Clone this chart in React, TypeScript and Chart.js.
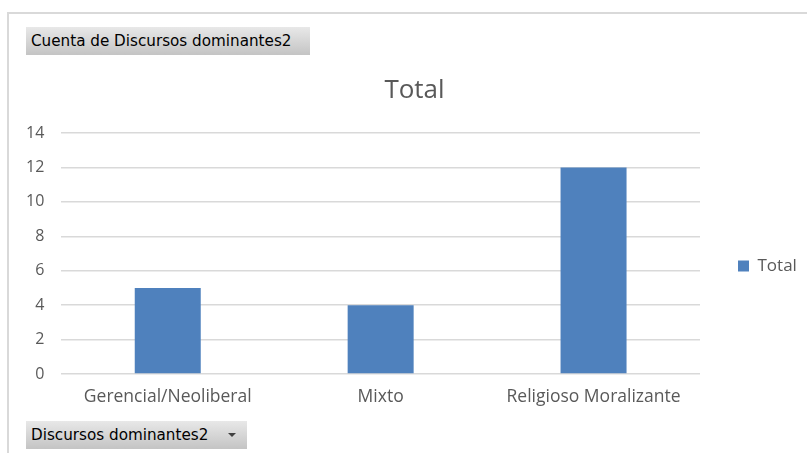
import React, { useEffect, useRef } from "react";
import { Chart, registerables } from "chart.js";

Chart.register(...registerables);

const categories = ["Gerencial/Neoliberal", "Mixto", "Religioso Moralizante"];
const totals = [5, 4, 12];
const seriesName = "Total";
const yTicks = [0, 2, 4, 6, 8, 10, 12, 14];

const FONT = "'Open Sans', 'Noto Sans', sans-serif";
const TEXT = "#595959";

const shiftTitle = {
  id: "shiftTitle",
  afterLayout(chart: any) {
    const t = chart.titleBlock;
    if (t) {
      t.left += 20;
    }
  },
};

export default function App() {
  const ref = useRef<HTMLCanvasElement | null>(null);

  useEffect(() => {
    if (!ref.current) return;
    const chart = new Chart(ref.current, {
      type: "bar",
      data: {
        labels: categories,
        datasets: [
          {
            label: seriesName,
            data: totals,
            backgroundColor: "#4f81bd",
            borderWidth: 0,
            barPercentage: 0.62,
            categoryPercentage: 0.5,
          },
        ],
      },
      plugins: [shiftTitle],
      options: {
        responsive: false,
        animation: false,
        layout: { padding: { left: 9, right: 7, top: 75, bottom: 40 } },
        plugins: {
          title: {
            display: true,
            text: "Total",
            color: TEXT,
            font: { family: FONT, size: 26, weight: "normal", lineHeight: 1.0 },
            padding: { top: 3, bottom: 29 },
          },
          legend: {
            position: "right",
            fullSize: false,
            maxWidth: 100,
            title: { display: true, text: " ", font: { size: 25, lineHeight: 1 }, padding: 0 },
            labels: {
              color: TEXT,
              font: { family: FONT, size: 17 },
              boxWidth: 11,
              boxHeight: 11,
              padding: 38,
            },
          },
          tooltip: { enabled: false },
        },
        scales: {
          x: {
            grid: { display: false },
            border: { display: false },
            ticks: {
              color: TEXT,
              font: { family: FONT, size: 17.5 },
              padding: 5,
              maxRotation: 0,
            },
          },
          y: {
            min: 0,
            max: 14,
            afterBuildTicks: (axis: any) => {
              axis.ticks = yTicks.map((v) => ({ value: v }));
            },
            grid: { color: "#d9d9d9", lineWidth: 1.5, drawTicks: false },
            border: { display: false },
            ticks: {
              color: TEXT,
              font: { family: FONT, size: 16 },
              padding: 17,
            },
          },
        },
      },
    });
    return () => chart.destroy();
  }, []);

  const btn: React.CSSProperties = {
    position: "absolute",
    height: 28,
    background: "linear-gradient(#e8e8e8, #c4c4c4)",
    fontFamily: "'DejaVu Sans', 'Open Sans', sans-serif",
    fontSize: 15.2,
    color: "#000",
    lineHeight: "28px",
    paddingLeft: 5,
    boxSizing: "border-box",
    whiteSpace: "nowrap",
  };

  return (
    <div
      style={{
        position: "fixed",
        left: 0,
        top: 0,
        width: 807,
        height: 453,
        background: "#fff",
        overflow: "hidden",
      }}
    >
      <div
        style={{
          position: "absolute",
          left: 7,
          top: 12,
          width: 810,
          height: 460,
          borderTop: "2px solid #d9d9d9",
          borderLeft: "2px solid #d9d9d9",
        }}
      />
      <canvas
        ref={ref}
        width={807}
        height={453}
        style={{ position: "absolute", left: 0, top: 0, width: 807, height: 453 }}
      />
      <div style={{ ...btn, left: 26, top: 27, width: 284 }}>Cuenta de Discursos dominantes2</div>
      <div style={{ ...btn, left: 26, top: 421, width: 221 }}>
        Discursos dominantes2
        <span
          style={{
            position: "absolute",
            left: 202,
            top: 12,
            width: 0,
            height: 0,
            borderLeft: "4px solid transparent",
            borderRight: "4px solid transparent",
            borderTop: "4px solid #404040",
          }}
        />
      </div>
    </div>
  );
}
